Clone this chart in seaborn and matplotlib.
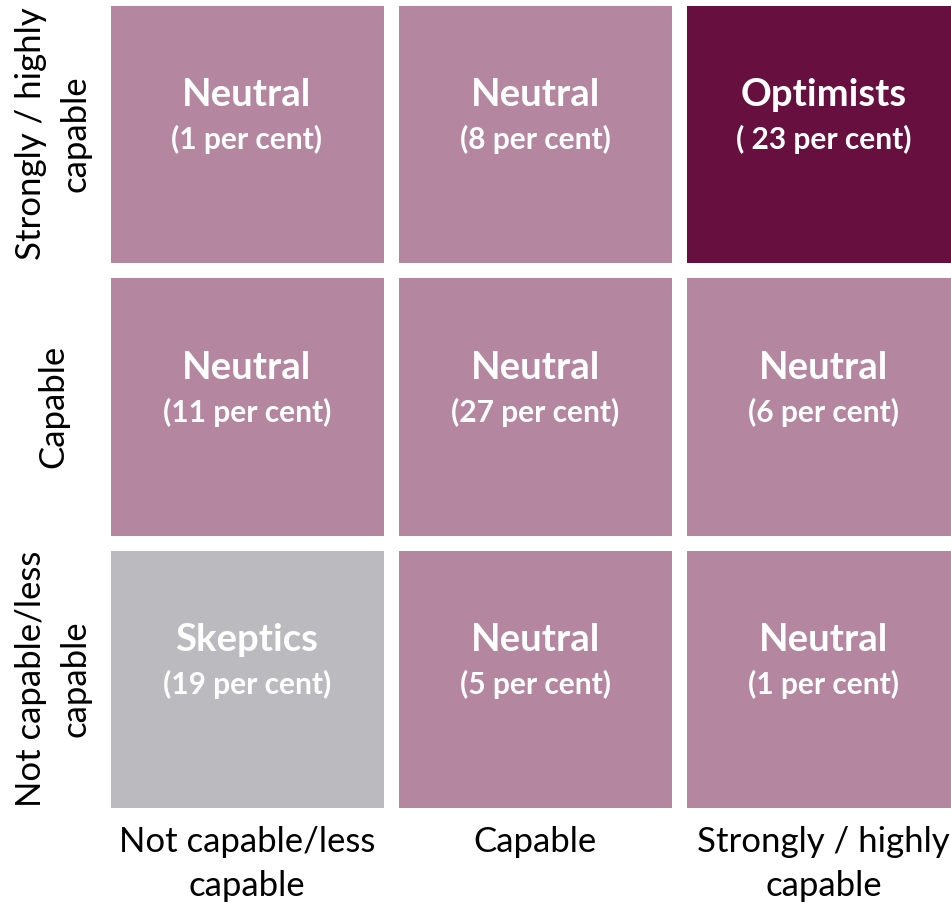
import numpy as np
import pandas as pd
import seaborn as sns
import matplotlib.pyplot as plt
from matplotlib.colors import ListedColormap

# ---- data ----
col_labels = ["Not capable/less\ncapable", "Capable", "Strongly / highly\ncapable"]
row_labels = ["Strongly / highly\ncapable", "Capable", "Not capable/less\ncapable"]
segments = [
    ["Neutral", "Neutral", "Optimists"],
    ["Neutral", "Neutral", "Neutral"],
    ["Skeptics", "Neutral", "Neutral"],
]
percent_labels = [
    ["(1 per cent)", "(8 per cent)", "( 23 per cent)"],
    ["(11 per cent)", "(27 per cent)", "(6 per cent)"],
    ["(19 per cent)", "(5 per cent)", "(1 per cent)"],
]
segment_order = ["Neutral", "Optimists", "Skeptics"]
segment_colors = ["#B4869F", "#670F3F", "#BBBABE"]

# ---- build ----
codes = pd.DataFrame(
    [[segment_order.index(s) for s in row] for row in segments],
    index=row_labels, columns=col_labels,
)

sns.set_style("white")
plt.rcParams["font.family"] = ["Lato", "DejaVu Sans"]

fig = plt.figure(figsize=(9.51, 9.08), dpi=100)
ax = fig.add_axes([102.5 / 951, 1 - 815 / 908, 865.5 / 951, 817.5 / 908])

sns.heatmap(
    codes, ax=ax, cmap=ListedColormap(segment_colors), vmin=-0.5, vmax=2.5,
    cbar=False, linewidths=10.8, linecolor="white", square=False,
)

for i in range(3):
    for j in range(3):
        ax.text(j + 0.5, i + 0.5 - 0.142, segments[i][j], ha="center", va="center",
                color="white", fontsize=27.5, fontweight="bold")
        ax.text(j + 0.5, i + 0.5 + 0.022, percent_labels[i][j], ha="center", va="center",
                color="white", fontsize=21.5, fontweight="bold")

ax.set_xlabel("")
ax.set_ylabel("")
ax.tick_params(axis="both", length=0)
ax.tick_params(axis="x", pad=8)
ax.tick_params(axis="y", pad=35.5)
ax.set_xticklabels(col_labels, rotation=0, fontsize=25, color="black",
                   linespacing=1.45, va="top", ha="center")
ax.set_yticklabels(row_labels, rotation=90, fontsize=25, color="black",
                   linespacing=1.45, va="center", ha="center")
for lab in ax.get_yticklabels():
    lab.set_rotation_mode("default")
    lab.set_multialignment("center")
for s in ax.spines.values():
    s.set_visible(False)

fig.savefig("out.png", dpi=100)
